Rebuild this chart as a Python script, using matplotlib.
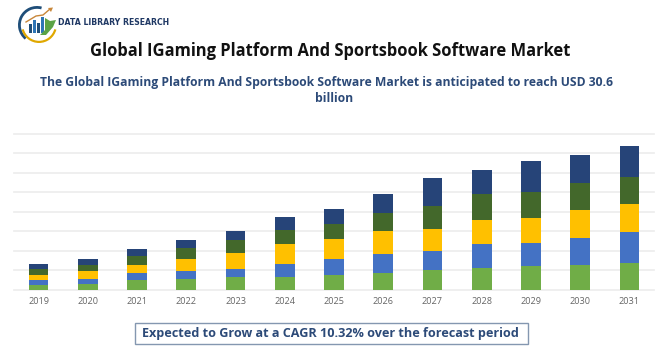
import matplotlib
matplotlib.use("Agg")
import matplotlib.pyplot as plt
from matplotlib.patches import Wedge, Rectangle, Polygon
import numpy as np

years = ["2019","2020","2021","2022","2023","2024","2025","2026","2027","2028","2029","2030","2031"]
green = [1.2,1.5,2.5,2.7,3.3,3.3,3.9,4.3,5.0,5.7,6.0,6.3,6.9]
blue = [1.4,1.3,1.7,2.1,2.1,3.4,3.9,4.8,4.9,6.0,6.0,6.9,8.0]
yellow = [1.1,2.1,2.1,3.0,4.1,5.0,5.1,6.1,5.7,6.1,6.3,7.2,7.1]
dark_green = [1.5,1.5,2.4,2.8,3.3,3.6,4.0,4.5,5.9,6.9,6.9,7.1,7.0]
navy = [1.5,1.5,1.8,2.1,2.2,3.3,3.9,4.8,7.2,6.0,7.8,7.1,8.0]
series = [green, blue, yellow, dark_green, navy]
colors = ["#70AD47","#4472C4","#FFC000","#43682B","#264478"]

title = "Global IGaming Platform And Sportsbook Software Market"
sub1 = "The Global IGaming Platform And Sportsbook Software Market is anticipated to reach USD 30.6"
sub2 = "billion"
cagr = "Expected to Grow at a CAGR 10.32% over the forecast period"
brand = "DATA LIBRARY RESEARCH"

W, H = 670, 350
fig = plt.figure(figsize=(W/100, H/100), dpi=100, facecolor="white")
plt.rcParams["font.family"] = ["Open Sans", "DejaVu Sans"]

# chart
ax = fig.add_axes([14/W, 1-289.7/H, 640/W, (289.7-134)/H])
ax.set_xlim(-0.5, 12.5)
ax.set_ylim(0, 40)
ax.set_yticks(range(0, 41, 5))
ax.set_yticklabels([])
ax.grid(axis="y", color="#ECECEC", lw=1.2)
for gl in ax.get_ygridlines():
    gl.set_clip_on(False)
ax.set_axisbelow(True)
for s in ax.spines.values():
    s.set_visible(False)
ax.tick_params(length=0)
x = np.arange(len(years))
bottom = np.zeros(len(years))
for vals, c in zip(series, colors):
    ax.bar(x, vals, width=0.4, bottom=bottom, color=c)
    bottom += np.array(vals)
ax.set_xticks(x)
ax.set_xticklabels(years, fontsize=6.6, color="#666666")
ax.tick_params(axis="x", pad=5)

# overlay in pixel coordinates
ov = fig.add_axes([0, 0, 1, 1], facecolor="none")
ov.set_xlim(0, W)
ov.set_ylim(H, 0)
ov.axis("off")

ov.text(330, 51, title, ha="center", va="center", fontsize=11.9, fontweight="bold", color="#111111")
ov.text(326, 82.5, sub1, ha="center", va="center", fontsize=8.75, fontweight="bold", color="#2C4A78")
ov.text(334, 98, sub2, ha="center", va="center", fontsize=8.75, fontweight="bold", color="#2C4A78")

ov.add_patch(Rectangle((134.5, 322.5), 393, 21.5, fc="white", ec="#8497B0", lw=1))
ov.text(330, 333.5, cagr, ha="center", va="center", fontsize=9.05, fontweight="bold", color="#2C4A78")

# logo
ov.text(58.5, 22.5, brand, ha="left", va="center", fontsize=6.2, fontweight="bold", color="#1F3864",
        family="DejaVu Sans", stretch="condensed")
ov.add_patch(Wedge((37, 25), 19, 130, 285, width=2.8, fc="#1F4E79"))
ov.add_patch(Wedge((39, 25), 18, 15, 165, width=2.2, fc="#E0A800"))
for bx, bh, bc in [(28.5, 9, "#1F4E79"), (32.5, 13, "#2E75B6"), (36.5, 10, "#1F4E79"), (40.5, 16, "#2E75B6")]:
    ov.add_patch(Rectangle((bx, 33-bh), 3.6, bh, fc=bc))
ov.add_patch(Polygon([(45, 18), (50, 21), (56, 20), (53, 27), (46, 35), (40, 35), (45, 30)], fc="#5BA345"))
ov.plot([26, 36, 43, 50], [22, 16, 15, 9], color="#C8873A", lw=1)
ov.add_patch(Polygon([(48, 8), (53, 7.5), (51, 12)], fc="#C8873A"))

fig.savefig("out.png", dpi=100)
